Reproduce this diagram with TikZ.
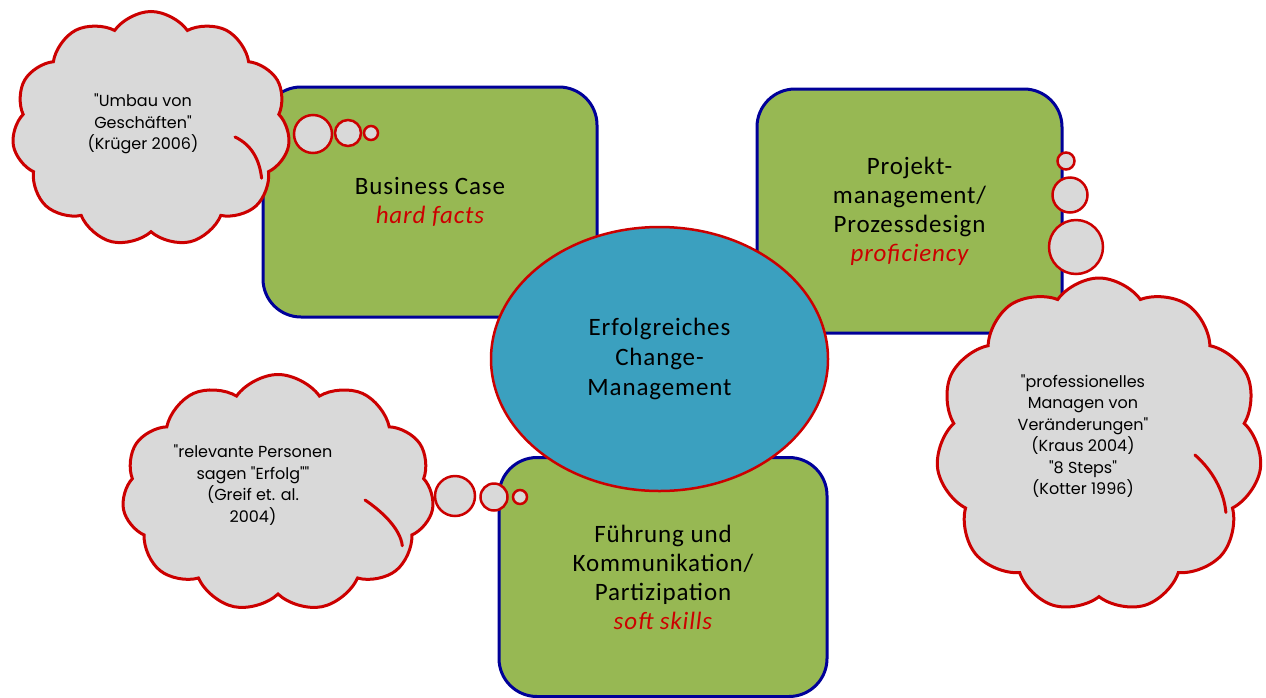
\documentclass[tikz,border=0pt]{standalone}
\usepackage{fontspec}
\newfontfamily\boxfont[LetterSpace=3.5]{Carlito}
\newfontfamily\cloudfont{Poppins}
\usetikzlibrary{shapes.symbols,shapes.geometric,calc}
\definecolor{boxgreen}{HTML}{97B853}
\definecolor{boxblue}{HTML}{000099}
\definecolor{ellblue}{HTML}{3BA0BF}
\definecolor{linered}{HTML}{CC0000}
\definecolor{cloudgray}{HTML}{D9D9D9}
\tikzset{
  greenbox/.style={draw=boxblue, line width=3pt, fill=boxgreen, rounded corners=38pt,
    align=center, inner sep=0pt, font={\boxfont\fontsize{25}{29}\selectfont}},
  centerell/.style={ellipse, draw=linered, line width=2.5pt, fill=ellblue, inner sep=0pt,
    align=center, font={\boxfont\fontsize{25}{30}\selectfont}},
  thought/.style={cloud, draw=linered, line width=3pt, fill=cloudgray, cloud puffs=11,
    cloud puff arc=110, inner sep=0pt},
  innerarc/.style={draw=linered, line width=3pt, line cap=round},
  bubble/.style={circle, draw=linered, line width=2.5pt, fill=cloudgray, inner sep=0pt},
  cloudtext/.style={align=center, inner sep=0pt, font={\cloudfont\fontsize{16}{21.5}\selectfont}}
}
\begin{document}
\begin{tikzpicture}[x=1pt,y=-1pt]
\useasboundingbox[fill=white] (0,0) rectangle (1266,697);
% boxes
\node[greenbox, minimum width=334pt, minimum height=230pt] (bc) at (430,202)
  {Business Case\\ \textcolor{linered}{\itshape hard facts}};
\node[greenbox, minimum width=305pt, minimum height=244pt] (pm) at (909.5,211)
  {Projekt-\\management/\\Prozessdesign\\ \textcolor{linered}{\itshape proficiency}};
\node[greenbox, minimum width=328pt, minimum height=239pt] (fk) at (663,577)
  {Führung und\\Kommunikation/\\Partizipation\\ \textcolor{linered}{\itshape soft skills}};
% center ellipse
\node[centerell, minimum width=337pt, minimum height=264pt] (ecm) at (659.5,359)
  {Erfolgreiches\\Change-\\Management};
% clouds
\node[thought, minimum width=278pt, minimum height=235pt] (c1) at (151,129) {};
\node[thought, minimum width=326pt, minimum height=334pt] (c2) at (1099,445) {};
\node[thought, minimum width=312pt, minimum height=237pt] (c3) at (278,493) {};
% inner arcs of the clouds
\draw[innerarc] ($(c1.center)+(84,8)$) .. controls +(17,8) and +(-2,-18) .. ($(c1.center)!0.93!(c1.-24)$);
\draw[innerarc] ($(c2.center)+(96,10)$) .. controls +(17,15) and +(-2,-22) .. ($(c2.center)!0.93!(c2.-28)$);
\draw[innerarc] ($(c3.center)+(87,7)$) .. controls +(15,10) and +(-2,-18) .. ($(c3.center)!0.93!(c3.-23)$);
% bubbles
\node[bubble, minimum size=38pt] (b1a) at (313,134) {};
\node[bubble, minimum size=26pt] (b1b) at (348,133) {};
\node[bubble, minimum size=14pt] (b1c) at (371,133) {};
\node[bubble, minimum size=17pt] (b2a) at (1066,161) {};
\node[bubble, minimum size=35pt] (b2b) at (1070,195) {};
\node[bubble, minimum size=54pt] (b2c) at (1076,247) {};
\node[bubble, minimum size=40pt] (b3a) at (455,496) {};
\node[bubble, minimum size=27pt] (b3b) at (494,497) {};
\node[bubble, minimum size=14pt] (b3c) at (520,497) {};
% cloud texts
\node[cloudtext] (t1) at (143,124) {"Umbau von\\Geschäften"\\(Krüger 2006)};
\node[cloudtext] (t2) at (1083,436) {"professionelles\\Managen von\\Veränderungen"\\(Kraus 2004)\\"8 Steps"\\(Kotter 1996)};
\node[cloudtext] (t3) at (253,485) {"relevante Personen\\sagen "Erfolg""\\(Greif et. al.\\2004)};
\end{tikzpicture}
\end{document}
